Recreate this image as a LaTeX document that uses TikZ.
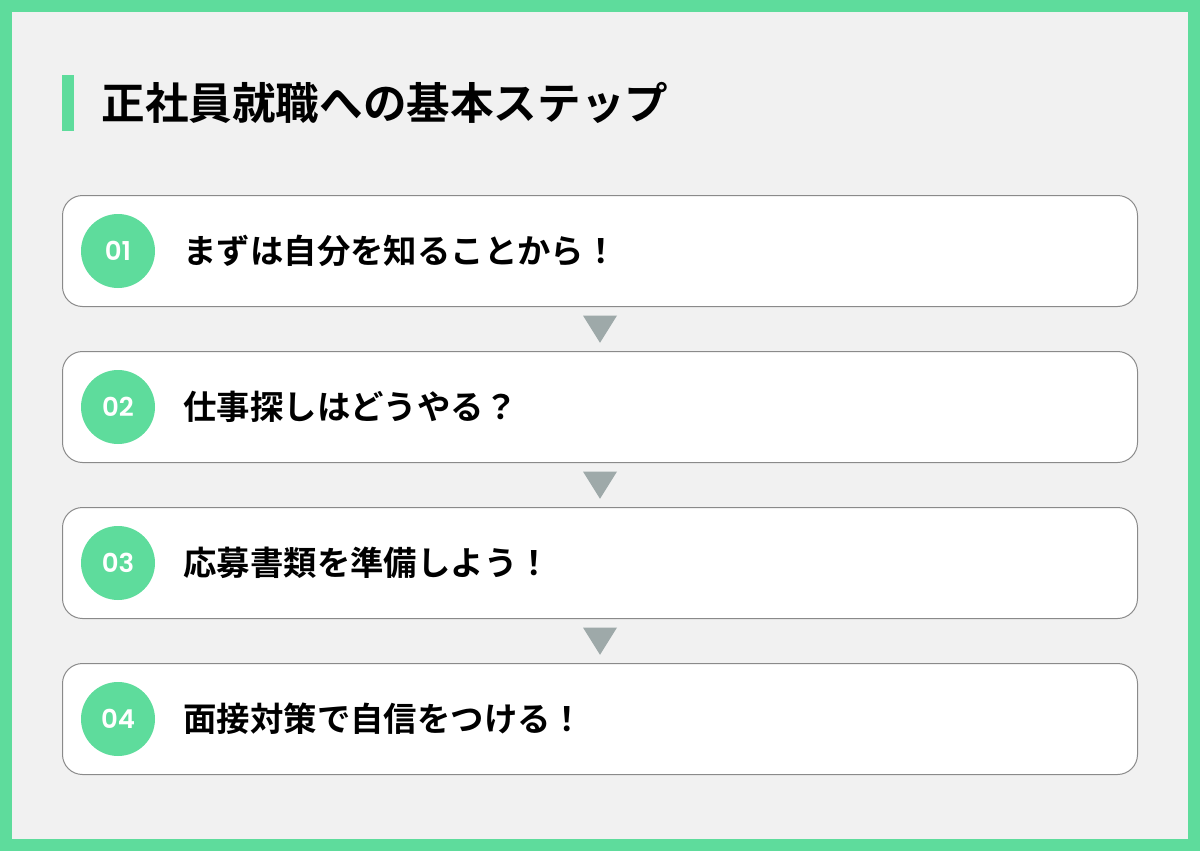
\documentclass[tikz,border=0pt]{standalone}
\usepackage{fontspec}
\newfontfamily\jpfont{Noto Sans CJK JP}[BoldFont={* Bold}]
\newfontfamily\numfont{Poppins SemiBold}
\usepackage{xcolor}
\usetikzlibrary{shapes.geometric}

\definecolor{mintgreen}{HTML}{5EDC9C}
\definecolor{panelgray}{HTML}{F1F1F1}
\definecolor{edgegray}{HTML}{8A8A8A}
\definecolor{arrowgray}{HTML}{9EA9A9}

\begin{document}
\begin{tikzpicture}[x=0.5pt, y=-0.5pt,
    stepbox/.style={rectangle, draw=edgegray, line width=0.5pt, fill=white,
                    rounded corners=10pt, minimum width=537.5pt, minimum height=55.5pt},
    stepnum/.style={circle, fill=mintgreen, minimum size=37pt, inner sep=0pt,
                    text=white, font=\numfont\fontsize{13}{13}\selectfont},
    steptext/.style={anchor=west, inner sep=0pt,
                     font=\jpfont\bfseries\fontsize{16.7}{16.7}\selectfont},
    down/.style={isosceles triangle, isosceles triangle apex angle=64, shape border rotate=-90,
                 fill=arrowgray, inner sep=0pt, minimum height=13.5pt, minimum width=17pt}
]

% Frame and background
\fill[mintgreen] (0,0) rectangle (1200,851);
\fill[panelgray] (12,12) rectangle (1188,839);

% Title
\fill[mintgreen] (62,75) rectangle (74,131);
\node[anchor=west, inner sep=0pt, font=\jpfont\bfseries\fontsize{21.8}{21.8}\selectfont]
    (title) at (101,103) {正社員就職への基本ステップ};

% Steps
\node[stepbox] (B1) at (600,251) {};
\node[stepbox] (B2) at (600,407) {};
\node[stepbox] (B3) at (600,563) {};
\node[stepbox] (B4) at (600,719) {};

\node[stepnum] (N1) at (118,251) {01};
\node[stepnum] (N2) at (118,407) {02};
\node[stepnum] (N3) at (118,563) {03};
\node[stepnum] (N4) at (118,719) {04};

\node[steptext] (T1) at (183,251) {まずは自分を知ることから！};
\node[steptext] (T2) at (183,407) {仕事探しはどうやる？};
\node[steptext] (T3) at (183,563) {応募書類を準備しよう！};
\node[steptext] (T4) at (183,719) {面接対策で自信をつける！};

% Arrows between steps
\node[down] (A1) at (600,325) {};
\node[down] (A2) at (600,481) {};
\node[down] (A3) at (600,637) {};

\end{tikzpicture}
\end{document}
